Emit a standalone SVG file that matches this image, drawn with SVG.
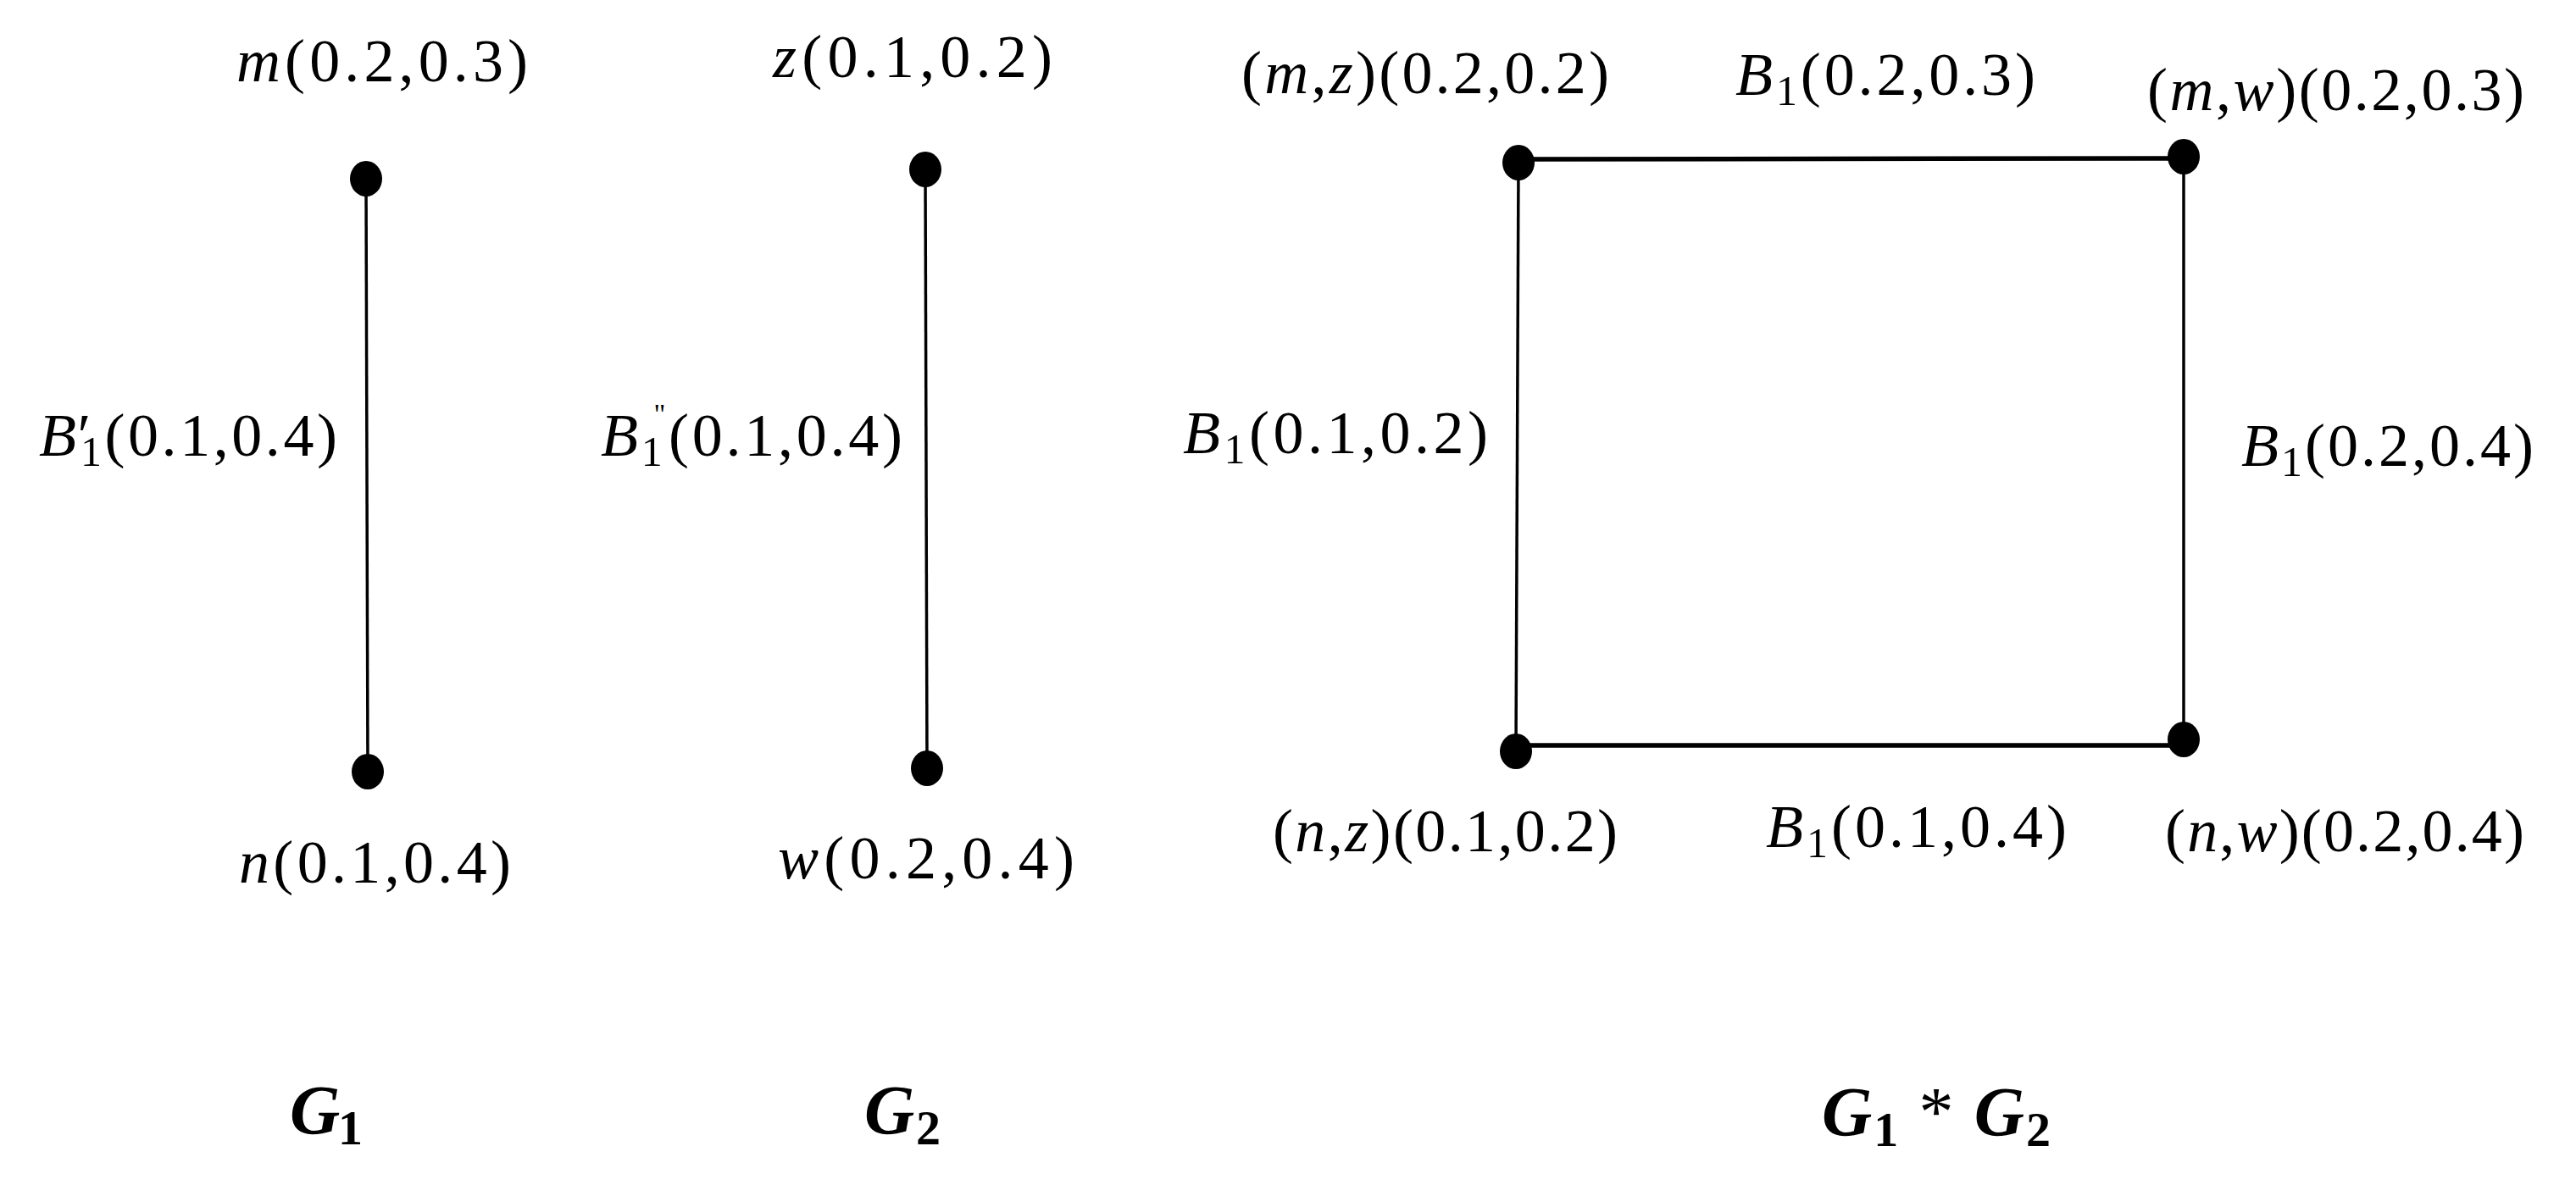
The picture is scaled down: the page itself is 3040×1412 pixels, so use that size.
<svg xmlns="http://www.w3.org/2000/svg" width="3040" height="1412" viewBox="0 0 3040 1412">
<style>
.t{font-family:"Liberation Serif","Times New Roman",serif;font-size:72px;fill:#000}
.i{font-style:italic}
.s{font-size:50px}
.q{font-size:34px}
.g{font-family:"Liberation Serif","Times New Roman",serif;font-size:82px;font-weight:bold;fill:#000}
.e{stroke:#000;stroke-width:3.5;fill:none}
.h{stroke-width:5.5}
.d{fill:#000}
</style>
<rect width="3040" height="1412" fill="#fff"/>
<g id="connectors">
  <line class="e" x1="432" y1="211" x2="434" y2="911"/>
  <line class="e" x1="1092" y1="202" x2="1094" y2="907"/>
  <line class="e h" x1="1792" y1="188" x2="2577" y2="187"/>
  <line class="e" x1="1792" y1="192" x2="1789" y2="887"/>
  <line class="e" x1="2577" y1="185" x2="2577" y2="873"/>
  <line class="e h" x1="1789" y1="880" x2="2577" y2="880"/>
</g>
<g id="edge-labels">
  <text class="t" x="46" y="538" textLength="352"><tspan class="i">B</tspan><tspan dx="-2">′</tspan><tspan class="s" dx="-16" dy="12">1</tspan><tspan dy="-12">(0.1,0.4)</tspan></text>
  <text class="t" x="709" y="538" textLength="356"><tspan class="i">B</tspan><tspan class="s" dy="12">1</tspan><tspan class="q" dx="-14" dy="-50">"</tspan><tspan dy="38">(0.1,0.4)</tspan></text>
  <text class="t" x="2048" y="112" textLength="354"><tspan class="i">B</tspan><tspan class="s" dy="12">1</tspan><tspan dy="-12">(0.2,0.3)</tspan></text>
  <text class="t" x="1396" y="535" textLength="360"><tspan class="i">B</tspan><tspan class="s" dy="12">1</tspan><tspan dy="-12">(0.1,0.2)</tspan></text>
  <text class="t" x="2645" y="550" textLength="345"><tspan class="i">B</tspan><tspan class="s" dy="12">1</tspan><tspan dy="-12">(0.2,0.4)</tspan></text>
  <text class="t" x="2084" y="1000" textLength="355"><tspan class="i">B</tspan><tspan class="s" dy="12">1</tspan><tspan dy="-12">(0.1,0.4)</tspan></text>
</g>
<g id="node-m">
  <ellipse class="d" cx="432" cy="211" rx="19" ry="21"/>
  <text class="t" x="279" y="96" textLength="344"><tspan class="i">m</tspan>(0.2,0.3)</text>
</g>
<g id="node-n">
  <ellipse class="d" cx="434" cy="911" rx="19" ry="21"/>
  <text class="t" x="282" y="1042" textLength="321"><tspan class="i">n</tspan>(0.1,0.4)</text>
</g>
<g id="node-z">
  <ellipse class="d" cx="1092" cy="200" rx="19" ry="21"/>
  <text class="t" x="912" y="91" textLength="330"><tspan class="i">z</tspan>(0.1,0.2)</text>
</g>
<g id="node-w">
  <ellipse class="d" cx="1094" cy="907" rx="19" ry="21"/>
  <text class="t" x="918" y="1037" textLength="350"><tspan class="i">w</tspan>(0.2,0.4)</text>
</g>
<g id="node-mz">
  <ellipse class="d" cx="1792" cy="192" rx="19" ry="21"/>
  <text class="t" x="1465" y="110" textLength="434">(<tspan class="i">m</tspan>,<tspan class="i">z</tspan>)(0.2,0.2)</text>
</g>
<g id="node-mw">
  <ellipse class="d" cx="2577" cy="185" rx="19" ry="21"/>
  <text class="t" x="2534" y="130" textLength="445">(<tspan class="i">m</tspan>,<tspan class="i">w</tspan>)(0.2,0.3)</text>
</g>
<g id="node-nz">
  <ellipse class="d" cx="1789" cy="887" rx="19" ry="21"/>
  <text class="t" x="1502" y="1005" textLength="407">(<tspan class="i">n</tspan>,<tspan class="i">z</tspan>)(0.1,0.2)</text>
</g>
<g id="node-nw">
  <ellipse class="d" cx="2577" cy="873" rx="19" ry="21"/>
  <text class="t" x="2555" y="1005" textLength="424">(<tspan class="i">n</tspan>,<tspan class="i">w</tspan>)(0.2,0.4)</text>
</g>
<g id="captions">
  <text class="g" x="342" y="1338" textLength="86"><tspan class="i">G</tspan><tspan font-size="58" dy="13">1</tspan></text>
  <text class="g" x="1020" y="1338" textLength="90"><tspan class="i">G</tspan><tspan font-size="58" dy="13">2</tspan></text>
  <text class="g" x="2150" y="1340" textLength="270"><tspan class="i">G</tspan><tspan font-size="58" dy="13">1</tspan><tspan font-weight="normal" dy="-13"> * </tspan><tspan class="i">G</tspan><tspan font-size="58" dy="13">2</tspan></text>
</g>
</svg>
